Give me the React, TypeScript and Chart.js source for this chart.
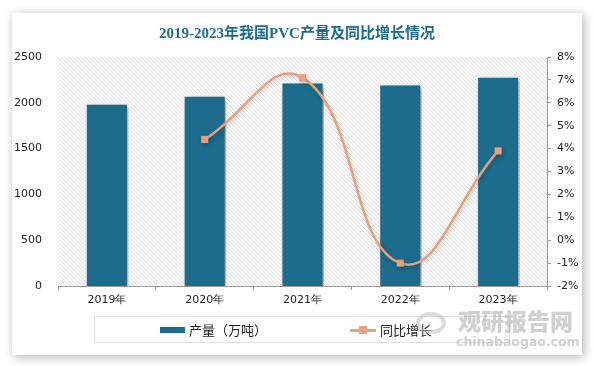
import React, { useEffect, useRef } from "react";
import { Chart, registerables } from "chart.js";

Chart.register(...registerables);

const categories = ["2019年", "2020年", "2021年", "2022年", "2023年"];
const production = [1995, 2083, 2227, 2205, 2290];
const growth = [null, 4.4, 7.1, -1.0, 3.9];
const leftTicks = [0, 500, 1000, 1500, 2000, 2500];
const rightTicks = [-2, -1, 0, 1, 2, 3, 4, 5, 6, 7, 8];

const BAR = "#1d6b8d";
const LINE = "#e9a07c";
const TICK_FONT = { family: "'DejaVu Sans', Verdana, sans-serif", size: 11 };

const hatchPlugin = {
  id: "hatch",
  beforeDraw(chart: any) {
    const { ctx, chartArea } = chart;
    const p = document.createElement("canvas");
    p.width = 4;
    p.height = 4;
    const pc = p.getContext("2d")!;
    pc.fillStyle = "#ffffff";
    pc.fillRect(0, 0, 4, 4);
    pc.strokeStyle = "#dedede";
    pc.lineWidth = 1;
    pc.beginPath();
    pc.moveTo(-1, -1);
    pc.lineTo(5, 5);
    pc.stroke();
    ctx.save();
    ctx.fillStyle = ctx.createPattern(p, "repeat");
    ctx.fillRect(chartArea.left, chartArea.top, chartArea.right - chartArea.left, chartArea.bottom - chartArea.top);
    ctx.restore();
  },
  beforeDatasetDraw(chart: any, args: any) {
    const ctx = chart.ctx;
    ctx.save();
    if (args.index === 1) {
      ctx.shadowColor = "rgba(0,0,0,0.45)";
      ctx.shadowBlur = 6;
      ctx.shadowOffsetX = 2;
      ctx.shadowOffsetY = 2;
    } else {
      ctx.shadowColor = "rgba(0,0,0,0.2)";
      ctx.shadowBlur = 4;
      ctx.shadowOffsetX = 1;
      ctx.shadowOffsetY = 2;
    }
  },
  afterDatasetDraw(chart: any) {
    chart.ctx.restore();
  },
};

export default function App() {
  const ref = useRef<HTMLCanvasElement>(null);
  useEffect(() => {
    document.body.style.margin = "0";
    const chart = new Chart(ref.current!, {
      type: "bar",
      data: {
        labels: categories,
        datasets: [
          {
            type: "line",
            label: "同比增长",
            data: growth as any,
            yAxisID: "y1",
            borderColor: LINE,
            backgroundColor: LINE,
            borderWidth: 2.5,
            tension: 0.45,
            pointStyle: "rect",
            pointRadius: 5,
            pointBorderWidth: 0,
            pointBackgroundColor: LINE,
            order: 0,
          },
          {
            type: "bar",
            label: "产量（万吨）",
            data: production,
            yAxisID: "y",
            backgroundColor: BAR,
            borderColor: "#ffffff",
            borderWidth: 1.5,
            barPercentage: 0.44,
            categoryPercentage: 1,
            order: 1,
          },
        ],
      },
      options: {
        animation: false,
        responsive: false,
        layout: { padding: { left: 0, right: 0, top: 57, bottom: 50 } },
        plugins: { legend: { display: false }, tooltip: { enabled: false } },
        scales: {
          x: {
            offset: true,
            grid: { offset: true, drawOnChartArea: false, drawTicks: true, tickLength: 4, color: "#999" },
            border: { display: true, color: "#999" },
            ticks: { color: "#222", font: TICK_FONT, padding: 4 },
            afterFit(s: any) { s.height = 30; },
          },
          y: {
            position: "left",
            min: 0,
            max: 2500,
            afterBuildTicks(s: any) { s.ticks = leftTicks.map((v) => ({ value: v })); },
            grid: { display: false, drawTicks: false },
            border: { display: false },
            ticks: { color: "#222", font: TICK_FONT, padding: 16, callback: (v: any) => String(v) },
            afterFit(s: any) { s.width = 58; },
          },
          y1: {
            position: "right",
            min: -2,
            max: 8,
            afterBuildTicks(s: any) { s.ticks = rightTicks.map((v) => ({ value: v })); },
            grid: { drawOnChartArea: false, drawTicks: true, tickLength: 4, color: "#999" },
            border: { display: true, color: "#999" },
            ticks: { color: "#222", font: TICK_FONT, padding: 6, callback: (v: any) => v + "%" },
            afterFit(s: any) { s.width = 47; },
          },
        },
      },
      plugins: [hatchPlugin],
    });
    return () => chart.destroy();
  }, []);

  const cjk = "'Noto Sans CJK SC', 'Noto Sans', sans-serif";
  return (
    <div style={{ position: "relative", width: 594, height: 366, background: "#fff", overflow: "hidden" }}>
      <div
        style={{
          position: "absolute",
          left: 12,
          top: 13,
          width: 570,
          height: 342,
          background: "#fff",
          boxShadow: "2px 2px 10px rgba(0,0,0,0.3)",
        }}
      />
      <canvas ref={ref} width={594} height={366} style={{ position: "absolute", left: 0, top: 0 }} />
      <div
        style={{
          position: "absolute",
          left: 0,
          width: 594,
          top: 23,
          textAlign: "center",
          fontFamily: "'Liberation Serif', 'Noto Sans CJK SC', serif",
          fontWeight: "bold",
          fontSize: 15,
          color: BAR,
          lineHeight: "20px",
        }}
      >
        2019-2023年我国PVC产量及同比增长情况
      </div>
      <div
        style={{
          position: "absolute",
          left: 94,
          top: 316,
          width: 416,
          height: 27,
          border: "1px solid #e0e0e0",
          boxSizing: "border-box",
        }}
      />
      <div style={{ position: "absolute", left: 160, top: 327, width: 25, height: 6, background: BAR }} />
      <div style={{ position: "absolute", left: 189, top: 320, fontFamily: cjk, fontSize: 13, lineHeight: "20px", color: "#222" }}>
        产量（万吨）
      </div>
      <div style={{ position: "absolute", left: 350, top: 329, width: 26, height: 2.5, background: LINE }} />
      <div style={{ position: "absolute", left: 359, top: 326, width: 8, height: 8, background: LINE }} />
      <div style={{ position: "absolute", left: 380, top: 320, fontFamily: cjk, fontSize: 13, lineHeight: "20px", color: "#222" }}>
        同比增长
      </div>
      <div style={{ position: "absolute", left: 416, top: 306, opacity: 0.55 }}>
        <div
          style={{
            position: "absolute",
            left: 0,
            top: 6,
            width: 30,
            height: 22,
            borderRadius: "50%",
            border: "4px solid #bdbdbd",
            boxSizing: "border-box",
          }}
        />
        <div style={{ position: "absolute", left: 42, top: 0, fontFamily: cjk, fontWeight: 900, fontSize: 23, lineHeight: "28px", color: "#a9a9a9", whiteSpace: "nowrap" }}>
          观研报告网
        </div>
        <div style={{ position: "absolute", left: 40, top: 28, fontFamily: "'DejaVu Sans', sans-serif", fontWeight: "bold", fontSize: 12.5, lineHeight: "16px", color: "#a9a9a9", whiteSpace: "nowrap" }}>
          chinabaogao.com
        </div>
      </div>
    </div>
  );
}
